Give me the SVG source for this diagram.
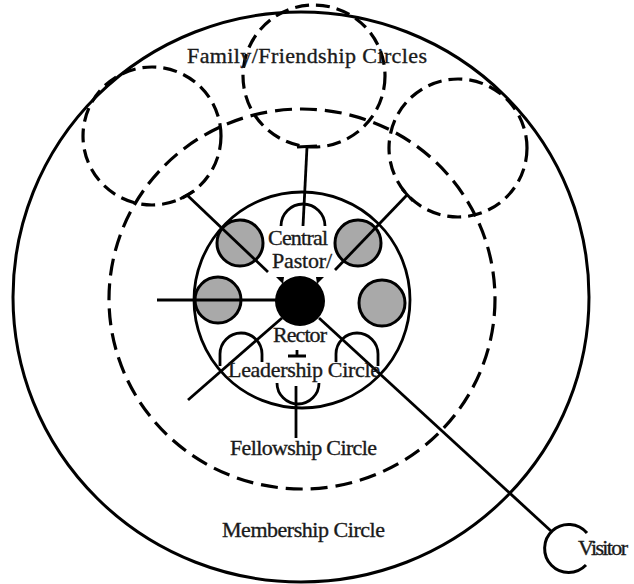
<svg xmlns="http://www.w3.org/2000/svg" width="634" height="584" viewBox="0 0 634 584">
<style>
.solid{fill:none;stroke:#000;stroke-width:3}
.thin{fill:none;stroke:#000;stroke-width:2.8}
.dashF{fill:none;stroke:#000;stroke-width:3.2;stroke-dasharray:17 8}
.dashS{fill:none;stroke:#000;stroke-width:3.2;stroke-dasharray:14 7}
.gray{fill:#a9a9a9;stroke:#000;stroke-width:3}
.ln{stroke:#000;stroke-width:2.8;fill:none}
text{font-family:"Liberation Serif","Times New Roman",serif;font-size:22px;fill:#1a1a1a;stroke:#1a1a1a;stroke-width:0.35}
</style>
<rect width="634" height="584" fill="#fff"/>
<g id="membership"><ellipse class="solid" cx="301" cy="297" rx="288" ry="285"/></g>
<g id="fellowship"><ellipse class="dashF" cx="302" cy="299" rx="193" ry="190"/></g>
<g id="family-left"><circle class="dashS" cx="152" cy="136" r="69"/></g>
<g id="family-top"><circle class="dashS" cx="314" cy="76" r="71"/></g>
<g id="family-right"><circle class="dashS" cx="458" cy="148" r="69"/></g>
<g id="leadership"><circle class="thin" cx="302" cy="300" r="108"/></g>
<g id="arches">
<path class="thin" d="M281,226 A22,22 0 0 1 325,226"/>
<path class="thin" d="M220,366 L220,354 A21,21 0 0 1 262,354 L262,362"/>
<path class="thin" d="M336,362 L336,354 A21,21 0 0 1 378,354 L378,366"/>
<path class="thin" d="M277,383 A21,21 0 0 0 319,383"/>
<path class="ln" d="M297,350 L297,356 M288,356 L306,356"/>
</g>
<g id="members">
<circle class="gray" cx="240" cy="243" r="23"/>
<circle class="gray" cx="358" cy="243" r="23"/>
<circle class="gray" cx="218" cy="300" r="23"/>
<circle class="gray" cx="382" cy="303" r="23"/>
</g>
<g id="pastor">
<circle cx="300" cy="301" r="25" fill="#000"/>
<polygon points="276,277 284,277 283,284" fill="#000"/>
<polygon points="316,277 324,277 317,284" fill="#000"/>
</g>
<g id="connectors">
<line class="ln" x1="307" y1="147" x2="303" y2="226"/>
<line class="ln" x1="297" y1="147" x2="317" y2="146"/>
<line class="ln" x1="187" y1="195" x2="268" y2="272"/>
<line class="ln" x1="180" y1="199" x2="194" y2="191"/>
<line class="ln" x1="407" y1="195" x2="335" y2="270"/>
<line class="ln" x1="402" y1="189" x2="413" y2="201"/>
<line class="ln" x1="157" y1="300" x2="280" y2="300"/>
<line class="ln" x1="282" y1="318" x2="188" y2="400"/>
<line class="ln" x1="319" y1="318" x2="551" y2="531"/>
<line class="ln" x1="296" y1="386" x2="296" y2="438"/>
</g>
<g id="visitor"><path class="solid" d="M587,533 A24,24 0 1 0 586,565"/></g>
<g id="labels">
<text x="187" y="63" textLength="240" lengthAdjust="spacing">Family/Friendship Circles</text>
<text x="268" y="245" textLength="60" lengthAdjust="spacing">Central</text>
<text x="272" y="268" textLength="60" lengthAdjust="spacing">Pastor/</text>
<text x="273" y="342" textLength="54" lengthAdjust="spacing">Rector</text>
<text x="228" y="377" textLength="152" lengthAdjust="spacing">Leadership Circle</text>
<text x="230" y="455" textLength="147" lengthAdjust="spacing">Fellowship Circle</text>
<text x="222" y="537" textLength="163" lengthAdjust="spacing">Membership Circle</text>
<text x="578" y="555" textLength="50" lengthAdjust="spacing">Visitor</text>
</g>
</svg>
